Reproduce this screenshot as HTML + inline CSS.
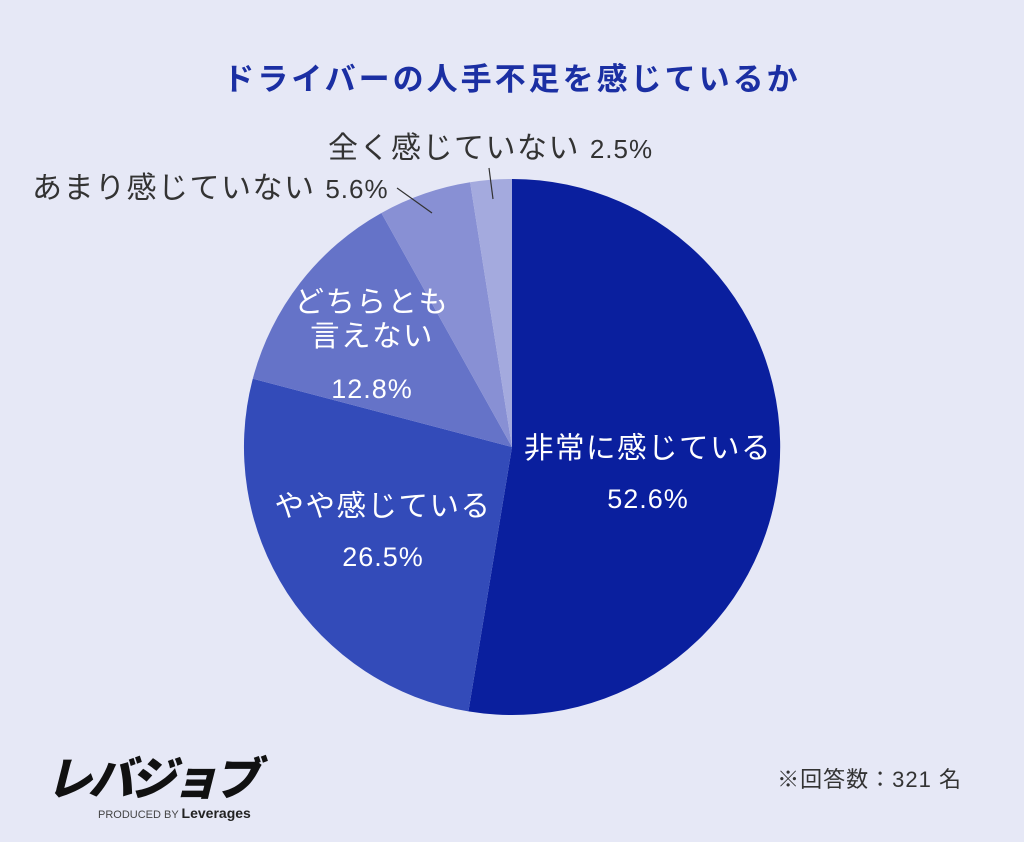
<!DOCTYPE html>
<html><head><meta charset="utf-8"><style>
body{margin:0;background:#e6e8f6;}
svg{display:block}
text{font-family:"Liberation Sans","Noto Sans CJK JP",sans-serif;}
</style></head><body>
<svg width="1024" height="842" viewBox="0 0 1024 842">
<rect width="1024" height="842" fill="#e6e8f6"/>
<text x="512" y="90" text-anchor="middle" font-size="31" letter-spacing="3" font-weight="bold" fill="#1b2fa3" font-family="Noto Sans CJK JP">ドライバーの人手不足を感じているか</text>
<path d="M512,447 L512,179 A268,268 0 1 1 468.4,711.4 Z" fill="#0a1f9e"/>
<path d="M512,447 L468.4,711.4 A268,268 0 0 1 252.8,378.7 Z" fill="#334bb9"/>
<path d="M512,447 L252.8,378.7 A268,268 0 0 1 381.4,213 Z" fill="#6573c8"/>
<path d="M512,447 L381.4,213 A268,268 0 0 1 470.1,182.3 Z" fill="#8890d4"/>
<path d="M512,447 L470.1,182.3 A268,268 0 0 1 512,179 Z" fill="#a4aade"/>
<line x1="489" y1="168" x2="493" y2="199" stroke="#333" stroke-width="1.2"/>
<line x1="397" y1="188" x2="432" y2="213" stroke="#333" stroke-width="1.2"/>
<g fill="#333" font-size="30" letter-spacing="1.5" font-family="Noto Sans CJK JP">
<text x="328" y="158">全く感じていない <tspan font-size="26" letter-spacing="1">2.5%</tspan></text>
<text x="32" y="198">あまり感じていない <tspan font-size="26" letter-spacing="1">5.6%</tspan></text>
</g>
<g fill="#fff" font-size="29.5" letter-spacing="1.5" font-family="Noto Sans CJK JP" text-anchor="middle">
<text x="372" y="312">どちらとも</text>
<text x="372" y="346">言えない</text>
<text x="372" y="398" font-size="27" letter-spacing="1">12.8%</text>
<text x="383" y="516">やや感じている</text>
<text x="383" y="566" font-size="27" letter-spacing="1">26.5%</text>
<text x="648" y="458">非常に感じている</text>
<text x="648" y="508" font-size="27" letter-spacing="1">52.6%</text>
</g>
<text x="46" y="795" font-size="46" font-weight="900" font-style="italic" fill="#111" font-family="Noto Sans CJK JP" textLength="214">レバジョブ</text>
<text x="98" y="818" font-size="11" fill="#444">PRODUCED BY <tspan font-weight="bold" font-size="14" fill="#222">Leverages</tspan></text>
<text x="962" y="787" text-anchor="end" font-size="22" letter-spacing="1" fill="#333" font-family="Noto Sans CJK JP">※回答数：321 名</text>
</svg>
</body></html>
